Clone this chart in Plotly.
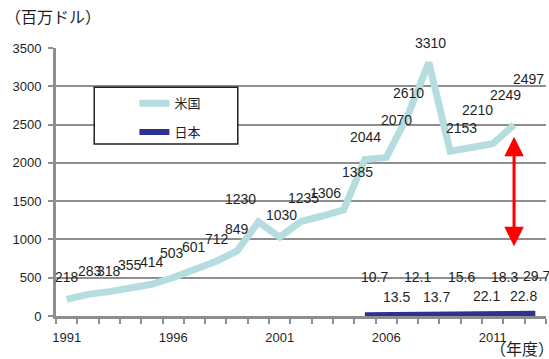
import plotly.graph_objects as go

# ---- data ----
us_years = list(range(1991, 2013))
us_values = [218, 283, 318, 355, 414, 503, 601, 712, 849, 1230, 1030, 1235, 1306,
             1385, 2044, 2070, 2610, 3310, 2153, 2210, 2249, 2497]
jp_years = list(range(2005, 2014))
jp_values = [10.7, 13.5, 12.1, 13.7, 15.6, 22.1, 18.3, 22.8, 29.7]
x_tick_vals = [1991, 1996, 2001, 2006, 2011]
y_tick_vals = [0, 500, 1000, 1500, 2000, 2500, 3000, 3500]
series_names = ["米国", "日本"]

# ---- label placement (pixel offsets, style only) ----
us_lab_dx = [0, 2, 0, -1, 0, -1, 0, 1, 0, -18, 2, 2, 3, 14, 1, 10, 1, 2, 11, 6, 13, 14]
us_lab_dy = [22, 23, 21, 24, 22, 24, 23, 22, 22, 23, 22, 23, 23, 38, 22, 38, 23, 20, 23, 37, 49, 46]
jp_lab_dx = [10, 10, 10, 8, 11, 15, 12, 9, 1]
jp_lab_dy = [38, 18, 38, 18, 38, 18, 38, 18, 38]

US_COLOR = "#b5dde0"
JP_COLOR = "#2e3192"
TXT = "#1f1f1f"
GRID = "#8e8e8e"
FONT = "Liberation Sans, Arial, sans-serif"

fig = go.Figure()
fig.add_trace(go.Scatter(x=us_years, y=us_values, mode="lines", name=series_names[0],
                         line=dict(color=US_COLOR, width=7), legendgroup="a"))
fig.add_trace(go.Scatter(x=jp_years, y=jp_values, mode="lines", name=series_names[1],
                         line=dict(color=JP_COLOR, width=6), legendgroup="b"))

annotations = []
for x, v, dx, dy in zip(us_years, us_values, us_lab_dx, us_lab_dy):
    annotations.append(dict(x=x, y=v, xref="x", yref="y", text=str(v), showarrow=False,
                            xshift=dx, yshift=dy, font=dict(size=14, color=TXT, family=FONT)))
for x, v, dx, dy in zip(jp_years, jp_values, jp_lab_dx, jp_lab_dy):
    annotations.append(dict(x=x, y=v, xref="x", yref="y", text=str(v), showarrow=False,
                            xshift=dx, yshift=dy, font=dict(size=14, color=TXT, family=FONT)))

# red double-headed arrow (gap between the two series)
annotations.append(dict(x=2012, y=2340, xref="x", yref="y", ax=2012, ay=890, axref="x", ayref="y",
                        showarrow=True, arrowhead=2, startarrowhead=2, arrowside="end+start",
                        arrowsize=1.3, startarrowsize=1.3, arrowwidth=3, arrowcolor="#ff0000",
                        text=""))

# axis titles
annotations.append(dict(x=-0.108, y=1.118, xref="paper", yref="paper", text="（百万ドル）",
                        showarrow=False, xanchor="left", yanchor="middle",
                        font=dict(size=16, color=TXT, family="Noto Sans CJK JP")))
annotations.append(dict(x=0.882, y=-0.118, xref="paper", yref="paper", text="（年度）",
                        showarrow=False, xanchor="left", yanchor="middle",
                        font=dict(size=16, color=TXT, family="Noto Sans CJK JP")))

fig.update_layout(
    width=549, height=359,
    margin=dict(l=56, r=3, t=48, b=43),
    paper_bgcolor="white", plot_bgcolor="white",
    showlegend=True,
    legend=dict(x=0.16, y=0.85, xanchor="left", yanchor="top", bgcolor="rgba(0,0,0,0)",
                borderwidth=0, tracegroupgap=9,
                font=dict(size=13, color=TXT, family="Noto Sans CJK JP")),
    annotations=annotations,
    shapes=[dict(type="rect", xref="paper", yref="paper", x0=0.078, x1=0.371, y0=0.642, y1=0.854,
                 fillcolor="white", line=dict(color="#222222", width=1.5), layer="above")],
    font=dict(family=FONT, color=TXT),
)
fig.update_xaxes(range=[1990.5, 2013.5], tickvals=x_tick_vals, ticks="", showgrid=False,
                 showline=True, linecolor=GRID, linewidth=3, zeroline=False,
                 tickfont=dict(size=13, color=TXT, family=FONT), ticklabelstandoff=7,
                 minor=dict(tick0=1990.5, dtick=1, ticks="outside", ticklen=5,
                            tickcolor=GRID, tickwidth=1.5, showgrid=False))
fig.update_yaxes(range=[0, 3500], tickvals=y_tick_vals, showgrid=True, gridcolor=GRID, gridwidth=1.5,
                 showline=True, linecolor=GRID, linewidth=3, zeroline=False,
                 ticks="outside", ticklen=5, tickcolor=GRID, tickwidth=1.5,
                 tickfont=dict(size=13, color=TXT, family=FONT), ticklabelstandoff=4)

fig.write_html("out.html")
